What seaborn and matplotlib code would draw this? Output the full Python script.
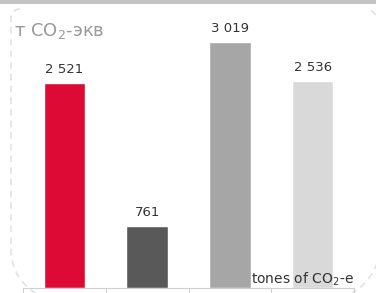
import matplotlib
matplotlib.use("Agg")
import matplotlib.pyplot as plt
import seaborn as sns
import pandas as pd
import numpy as np
from matplotlib.patches import Rectangle

categories = ["A", "B", "C", "D"]
values = [2521, 761, 3019, 2536]
labels = ["2 521", "761", "3 019", "2 536"]
colors = ["#DC0A35", "#595959", "#A6A6A6", "#D9D9D9"]
unit_ru = "т CO$_2$-экв"
unit_en = "tones of CO$_2$-e"

sns.set_style("white")
plt.rcParams["font.family"] = ["DejaVu Sans"]
plt.rcParams["mathtext.fontset"] = "dejavusans"

W, H = 376, 293
fig = plt.figure(figsize=(W / 100, H / 100), dpi=100)
fig.patch.set_facecolor("white")

# decorative overlay in pixel coordinates
deco = fig.add_axes([0, 0, 1, 1])
deco.set_xlim(0, W)
deco.set_ylim(H, 0)
deco.axis("off")
deco.add_patch(Rectangle((0, 0), W, 4, facecolor="#C4C4C4", edgecolor="none"))
dash = dict(color="#E2E2E2", lw=1.2, linestyle=(0, (4, 3)), solid_capstyle="butt")

def arc(cx, cy, r, a0, a1):
    t = np.radians(np.linspace(a0, a1, 40))
    return cx + r * np.cos(t), cy - r * np.sin(t)

# left edge with rounded corners
x1, y1 = arc(20, 18, 9, 90, 180)
x2, y2 = np.array([11, 11]), np.array([18, 250])
x3, y3 = arc(61, 250, 50, 180, 240)
deco.plot(np.concatenate([x1, x2, x3]), np.concatenate([y1, y2, y3]), **dash)
# top-right corner fragment
xr, yr = arc(366, 19, 10, 60, 0)
deco.plot(xr, yr, **dash)
# bottom-right arc
xb, yb = arc(325, 245, 55, 20, -60)
deco.plot(xb, yb, **dash)

ax = fig.add_axes([23 / W, 5 / H, 331 / W, 283 / H])
ax.patch.set_alpha(0)
df = pd.DataFrame({"cat": categories, "val": values})
sns.barplot(data=df, x="cat", y="val", hue="cat", palette=colors, width=0.5,
            legend=False, ax=ax, saturation=1)
ax.set_xlim(-0.5, 3.5)
ax.set_ylim(0, 283 / 0.0815)
for s in ["top", "right", "left"]:
    ax.spines[s].set_visible(False)
ax.spines["bottom"].set_color("#D0D0D0")
ax.set_xticks([-0.5, 0.5, 1.5, 2.5, 3.5])
ax.set_xticklabels([])
ax.tick_params(axis="x", length=5, color="#D0D0D0", direction="out", bottom=True)
ax.set_yticks([])
ax.set_xlabel("")
ax.set_ylabel("")

for i, (v, lab) in enumerate(zip(values, labels)):
    ax.annotate(lab, (i, v), xytext=(0, 5), textcoords="offset points",
                ha="center", va="bottom", fontsize=9.5, color="#333333")

fig.text(14 / W, 1 - 31 / H, unit_ru, fontsize=13, color="#9A9A9A",
         ha="left", va="center")
fig.text(354 / W, 1 - 279 / H, unit_en, fontsize=10, color="#333333",
         ha="right", va="center")

fig.savefig("out.png", dpi=100)
